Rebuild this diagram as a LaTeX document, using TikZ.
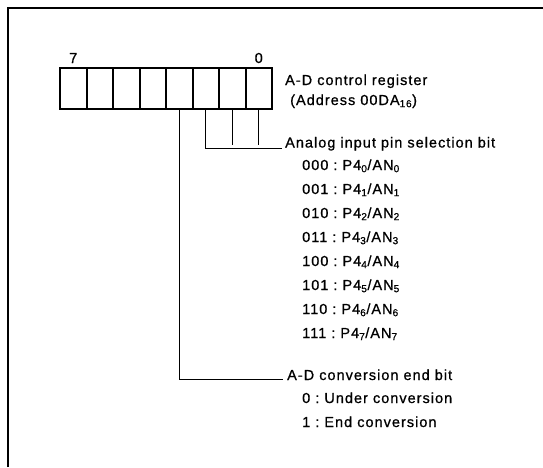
\documentclass[tikz,border=0pt]{standalone}
\usepackage{fontspec}
\setmainfont{Liberation Sans}[LetterSpace=7, FakeBold=0.8]
\usepackage{tikz}
\usetikzlibrary{positioning}

\begin{document}
\begin{tikzpicture}[x=1pt, y=-1pt,
    cell/.style={draw, line width=2pt, minimum width=26.5pt, minimum height=41pt, inner sep=0pt, outer sep=0pt},
    lbl/.style={anchor=base west, inner sep=0pt, font=\fontsize{14.5}{16}\selectfont},
    wire/.style={line width=0.8pt}]
      \useasboundingbox (0,0) rectangle (543,467);
      % frame
      \draw[line width=2pt] (8,467) -- (8,8) -- (543,8);
      % register bits 7..0
      \foreach \b [count=\i from 0] in {7,6,5,4,3,2,1,0}
        \node[cell] (b\b) at ({73.25+26.5*\i},88.5) {};
      \draw[line width=2.6pt] (b7.north west) rectangle (b0.south east);
      \node[lbl, anchor=base] (msb) at (73.25,63) {7};
      \node[lbl, anchor=base] (lsb) at (258.75,63) {0};
      \node[lbl] (reg) at (285,85) {A-D control register};
      \node[lbl] (addr) at (289,105) {\hspace{1pt}(Address 00DA\textsubscript{16})};
      % analog input pin selection
      \node[lbl] (sel) at (285,147.5) {Analog input pin selection bit};
      \foreach \code [count=\i from 0] in {000,001,010,011,100,101,110,111}
        \node[lbl] (pin\i) at (302,{170+24*\i}) {\code\ :\ P4\textsubscript{\i}/AN\textsubscript{\i}};
      \draw[wire] (b2.south) |- ([xshift=-3pt,yshift=-4.5pt]sel.west);
      \draw[wire] (b1.south) -- ++(0,35.5);
      \draw[wire] (b0.south) -- ++(0,35.5);
      % conversion end bit
      \node[lbl] (eoc) at (287,380) {A-D conversion end bit};
      \node[lbl] (eoc0) at (302,403) {0\ :\ Under conversion};
      \node[lbl] (eoc1) at (302,427) {1\ :\ End conversion};
      \draw[wire] (b3.south) |- ([xshift=-4pt,yshift=-4.5pt]eoc.west);
    \end{tikzpicture}
\end{document}
